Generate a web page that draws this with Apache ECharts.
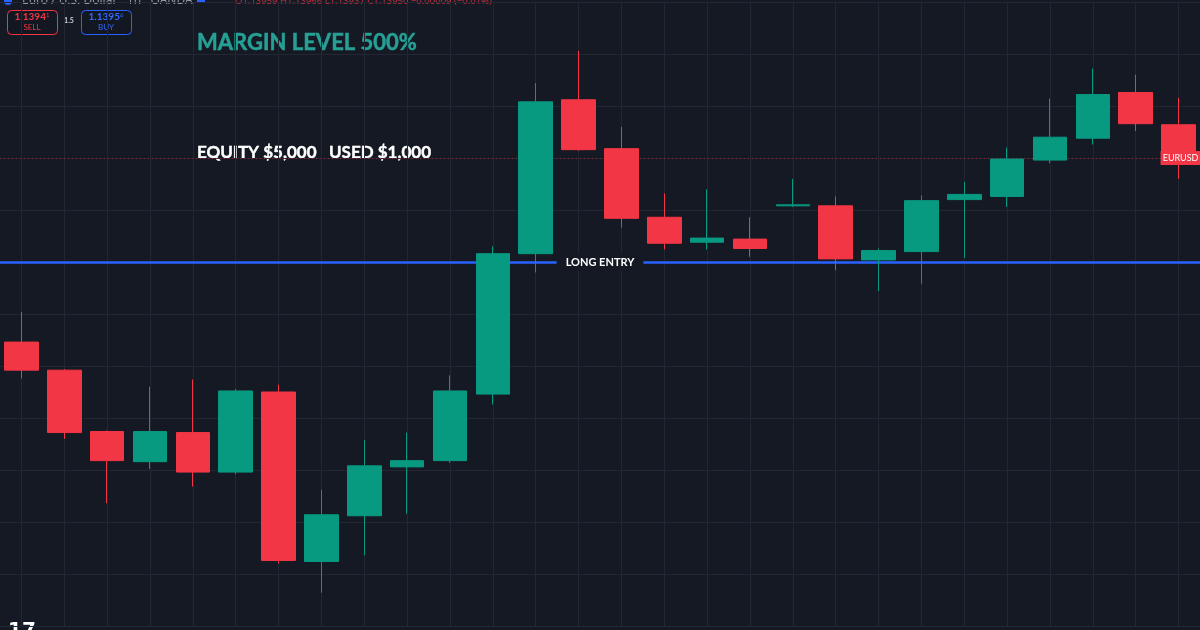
<!DOCTYPE html>
<html>
<head>
<meta charset="utf-8">
<script src="https://cdn.jsdelivr.net/npm/echarts@6/dist/echarts.min.js"></script>
<style>
html,body{margin:0;padding:0;background:#151924;}
#chart{width:1200px;height:630px;}
</style>
</head>
<body>
<div id="chart"></div>
<script>
// Hourly EUR/USD candles
const categories = ['01:00','02:00','03:00','04:00','05:00','06:00','07:00','08:00','09:00','10:00','11:00','12:00','13:00','14:00',
  '15:00','16:00','17:00','18:00','19:00','20:00','21:00','22:00','23:00','00:00','01:00 ','02:00 ','03:00 ','04:00 '];
const opens  = [1.13773,1.13746,1.13687,1.13658,1.13686,1.13648,1.13725,1.13562,1.13606,1.13653,1.13659,1.13723,1.13858,1.14006,
  1.13959,1.13893,1.13869,1.13872,1.13904,1.13904,1.13852,1.13860,1.13910,1.13913,1.13948,1.13969,1.14013,1.13982];
const closes = [1.13746,1.13686,1.13659,1.13687,1.13648,1.13726,1.13563,1.13607,1.13654,1.13659,1.13726,1.13858,1.14004,1.13958,
  1.13892,1.13868,1.13873,1.13863,1.13905,1.13853,1.13861,1.13909,1.13915,1.13949,1.13970,1.14011,1.13983,1.13950];
const lows   = [1.13738,1.13680,1.13618,1.13651,1.13634,1.13646,1.13560,1.13532,1.13568,1.13608,1.13657,1.13713,1.13840,1.13957,
  1.13883,1.13862,1.13862,1.13855,1.13903,1.13842,1.13822,1.13829,1.13854,1.13903,1.13945,1.13963,1.13976,1.13930];
const highs  = [1.13802,1.13747,1.13688,1.13730,1.13737,1.13728,1.13732,1.13631,1.13679,1.13686,1.13741,1.13865,1.14022,1.14053,
  1.13980,1.13916,1.13920,1.13893,1.13930,1.13913,1.13863,1.13914,1.13927,1.13960,1.14007,1.14036,1.14030,1.14008];
const longEntry = 1.13850;
const lastPrice = 1.13950;
const sellPrice = ['1.1394', '1'];
const buyPrice = ['1.1395', '6'];
const spread = '1.5';
const marginText = 'MARGIN LEVEL 500%';
const equityText = 'EQUITY $5,000   USED $1,000';

const UP = '#089981', DOWN = '#f23645', BG = '#151924', GRID = '#232734';

const candleData = categories.map((c, i) => [opens[i], closes[i], lows[i], highs[i]]);

const chart = echarts.init(document.getElementById('chart'), null, {renderer: 'canvas'});
chart.setOption({
  backgroundColor: BG,
  animation: false,
  grid: {left: 0, right: 0, top: 2, bottom: 4},
  xAxis: {
    type: 'category', data: categories, boundaryGap: true,
    axisLine: {show: false}, axisTick: {show: false}, axisLabel: {show: false}, splitLine: {show: false}
  },
  yAxis: {
    type: 'value', min: 1.1350, max: 1.1410, interval: 0.0005, scale: true,
    axisLine: {show: false}, axisTick: {show: false}, axisLabel: {show: false},
    splitLine: {show: true, lineStyle: {color: GRID, width: 1}}
  },
  series: [
    {
      type: 'line', data: categories.map(() => null), silent: true, z: 1,
      markLine: {
        silent: true, symbol: 'none', z: 1, animation: false, precision: 6,
        data: categories.map(c => ({
          xAxis: c, lineStyle: {color: GRID, width: 1, type: 'solid'}, label: {show: false}
        })).concat([
          {yAxis: lastPrice, lineStyle: {color: 'rgba(242,54,69,0.45)', width: 1, type: [1, 3]}, label: {show: false}},
          {yAxis: longEntry, lineStyle: {color: '#2962ff', width: 2.5, type: 'solid'},
           label: {show: true, position: 'middle', distance: 0, verticalAlign: 'middle', formatter: 'LONG ENTRY', color: '#ffffff',
                   fontFamily: 'Lato', fontWeight: 'bold', fontSize: 11, backgroundColor: BG, padding: [3, 9]}}
        ])
      }
    },
    {
      type: 'candlestick', data: candleData, barWidth: 34, z: 2,
      itemStyle: {color: UP, color0: DOWN, borderColor: UP, borderColor0: DOWN, borderWidth: 1},
      markPoint: {
        silent: true, symbol: 'rect', symbolSize: [40, 14], symbolOffset: [2, 0],
        data: [{coord: [categories[categories.length - 1], lastPrice], itemStyle: {color: DOWN},
          label: {show: true, position: 'inside', formatter: 'EURUSD', color: '#ffffff', fontSize: 9, fontFamily: 'Lato'}}]
      }
    }
  ],
  graphic: [
    {type: 'text', x: 197, y: 43, style: {text: marginText, fill: '#26a095', stroke: '#26a095', lineWidth: 0.5, font: 'bold 22px Lato', textVerticalAlign: 'middle'}},
    {type: 'text', x: 197, y: 153, style: {text: equityText, fill: '#ffffff', stroke: '#ffffff', lineWidth: 0.4, font: 'bold 17px Lato', textVerticalAlign: 'middle'}},
    // header strip (cut at top)
    {type: 'circle', shape: {cx: 8, cy: 1, r: 4}, style: {fill: '#2962ff'}},
    {type: 'text', x: 22, y: 1, style: {text: 'Euro / U.S. Dollar · 1h · OANDA', fill: '#9598a1', font: '12px "Noto Sans"', textVerticalAlign: 'middle'}},
    {type: 'rect', shape: {x: 197, y: -4, width: 8, height: 7}, style: {fill: '#2962ff'}},
    {type: 'text', x: 235, y: 1, style: {text: 'O1.13959 H1.13966 L1.13937 C1.13950 −0.00009 (−0.01%)', fill: '#c2303c', font: '9.5px "Noto Sans"', textVerticalAlign: 'middle'}},
    // SELL / BUY boxes
    {type: 'rect', shape: {x: 7.5, y: 10.5, width: 50, height: 24, r: 4}, style: {fill: '#131722', stroke: DOWN, lineWidth: 1}},
    {type: 'text', x: 32, y: 17, style: {text: '{a|' + sellPrice[0] + '}{b|' + sellPrice[1] + '}', fill: DOWN, textAlign: 'center', textVerticalAlign: 'middle',
      rich: {a: {fontSize: 10, fontFamily: 'Lato', fontWeight: 'bold', fill: DOWN}, b: {fontSize: 6, fill: DOWN, fontFamily: 'Lato', verticalAlign: 'top'}}}},
    {type: 'text', x: 32, y: 27.5, style: {text: 'SELL', fill: DOWN, font: '8px Lato', textAlign: 'center', textVerticalAlign: 'middle'}},
    {type: 'text', x: 69, y: 21, style: {text: spread, fill: '#d1d4dc', font: 'bold 7px Lato', textAlign: 'center', textVerticalAlign: 'middle'}},
    {type: 'rect', shape: {x: 81.5, y: 10.5, width: 50, height: 24, r: 4}, style: {fill: '#131722', stroke: '#2962ff', lineWidth: 1}},
    {type: 'text', x: 106, y: 17, style: {text: '{a|' + buyPrice[0] + '}{b|' + buyPrice[1] + '}', textAlign: 'center', textVerticalAlign: 'middle',
      rich: {a: {fontSize: 10, fontFamily: 'Lato', fontWeight: 'bold', fill: '#2f6bff'}, b: {fontSize: 6, fill: '#2f6bff', fontFamily: 'Lato', verticalAlign: 'top'}}}},
    {type: 'text', x: 106, y: 27.5, style: {text: 'BUY', fill: '#2f6bff', font: '8px Lato', textAlign: 'center', textVerticalAlign: 'middle'}},
    // logo (cut at bottom)
    {type: 'text', x: 8, y: 621, style: {text: '17', fill: '#ffffff', font: 'bold 20px "DejaVu Sans"', textVerticalAlign: 'top'}}
  ]
});
</script>
</body>
</html>
